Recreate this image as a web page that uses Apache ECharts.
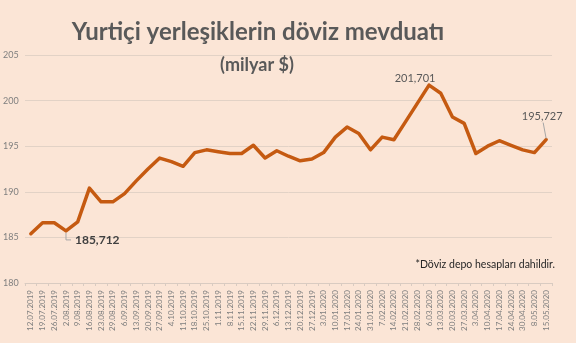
<!DOCTYPE html>
<html>
<head>
<meta charset="utf-8">
<script src="https://cdn.jsdelivr.net/npm/echarts@6/dist/echarts.min.js"></script>
<style>
  html, body { margin: 0; padding: 0; background: #FBE5D6; }
  #chart { width: 576px; height: 343px; }
</style>
</head>
<body>
<div id="chart"></div>
<script>
// Weekly dates (Friday close)
const categories = [
  '12.07.2019', '19.07.2019', '26.07.2019', '2.08.2019', '9.08.2019', '16.08.2019',
  '23.08.2019', '29.08.2019', '6.09.2019', '13.09.2019', '20.09.2019', '27.09.2019',
  '4.10.2019', '11.10.2019', '18.10.2019', '25.10.2019', '1.11.2019', '8.11.2019',
  '15.11.2019', '22.11.2019', '29.11.2019', '6.12.2019', '13.12.2019', '20.12.2019',
  '27.12.2019', '3.01.2020', '10.01.2020', '17.01.2020', '24.01.2020', '31.01.2020',
  '7.02.2020', '14.02.2020', '21.02.2020', '28.02.2020', '6.03.2020', '13.03.2020',
  '20.03.2020', '27.03.2020', '3.04.2020', '10.04.2020', '17.04.2020', '24.04.2020',
  '30.04.2020', '8.05.2020', '15.05.2020'
];

// FX deposits of residents, billion USD
const deposits = [
  185.4, 186.6, 186.6, 185.712, 186.7, 190.4, 188.9, 188.9, 189.8, 191.2,
  192.5, 193.7, 193.3, 192.8, 194.3, 194.6, 194.4, 194.2, 194.2, 195.1,
  193.7, 194.5, 193.9, 193.4, 193.6, 194.3, 196.0, 197.1, 196.4, 194.6,
  196.0, 195.7, 197.7, 199.7, 201.701, 200.8, 198.2, 197.5, 194.2, 195.0,
  195.6, 195.1, 194.6, 194.3, 195.727
];

const yTicks = [180, 185, 190, 195, 200, 205];

// Annotated points: lowest, highest and latest
const lowIdx = 3, highIdx = 34, lastIdx = 44;

const fmt = v => v.toFixed(3).replace('.', ',');

const chart = echarts.init(document.getElementById('chart'), null, { renderer: 'canvas' });

chart.setOption({
  backgroundColor: '#FBE5D6',
  animation: false,
  title: [{
    text: 'Yurtiçi yerleşiklerin döviz mevduatı',
    left: 253, top: 15, textAlign: 'center',
    textStyle: { fontFamily: 'Lato', fontWeight: 'bold', fontSize: 24, color: '#595959' }
  }, {
    text: '(milyar $)',
    left: 252, top: 51, textAlign: 'center',
    textStyle: { fontFamily: 'Lato', fontWeight: 'bold', fontSize: 18, color: '#595959' }
  }],
  grid: { left: 24, right: 24, top: 55, bottom: 60, containLabel: false },
  xAxis: {
    type: 'category',
    data: categories,
    boundaryGap: true,
    axisLine: { show: true, lineStyle: { color: '#D9CBC1', width: 1 } },
    axisTick: { show: true, length: 3, lineStyle: { color: '#D9CBC1' } },
    axisLabel: {
      interval: 0, rotate: 90, margin: 7,
      fontFamily: 'Lato', fontSize: 8, color: '#7F7F7F'
    },
    splitLine: { show: false }
  },
  yAxis: {
    type: 'value',
    min: yTicks[0], max: yTicks[yTicks.length - 1], interval: 5,
    axisLine: { show: false },
    axisTick: { show: false },
    axisLabel: {
      align: 'left', margin: 22,
      fontFamily: 'Lato', fontSize: 9, color: '#7F7F7F'
    },
    splitLine: { show: true, lineStyle: { color: '#E2D2C6', width: 1 } }
  },
  series: [{
    type: 'line',
    data: deposits,
    showSymbol: false,
    symbol: 'none',
    lineStyle: { color: '#C55A11', width: 3.5, join: 'round', cap: 'round' },
    z: 3
  }]
});

// Value callouts placed from the data through the axes
function annotate() {
  const px = i => chart.convertToPixel({ xAxisIndex: 0, yAxisIndex: 0 }, [i, deposits[i]]);
  const lo = px(lowIdx), hi = px(highIdx), last = px(lastIdx);
  chart.setOption({
    graphic: [
      {
        type: 'polyline', silent: true, z: 10,
        shape: { points: [[lo[0], lo[1] + 2], [lo[0], lo[1] + 9], [lo[0] + 5, lo[1] + 9]] },
        style: { stroke: '#A6A6A6', lineWidth: 1, fill: null }
      },
      {
        type: 'text', silent: true, z: 10,
        x: lo[0] + 9, y: lo[1] + 9.5,
        style: {
          text: fmt(deposits[lowIdx]), fill: '#404040',
          font: 'bold 12px Lato', textAlign: 'left', textVerticalAlign: 'middle'
        }
      },
      {
        type: 'text', silent: true, z: 10,
        x: hi[0] - 14, y: hi[1] - 7,
        style: {
          text: fmt(deposits[highIdx]), fill: '#595959',
          font: '11px Lato', textAlign: 'center', textVerticalAlign: 'middle'
        }
      },
      {
        type: 'line', silent: true, z: 10,
        shape: { x1: last[0] - 3, y1: last[1] - 17, x2: last[0], y2: last[1] - 1 },
        style: { stroke: '#A6A6A6', lineWidth: 1 }
      },
      {
        type: 'text', silent: true, z: 10,
        x: last[0] - 4, y: last[1] - 23,
        style: {
          text: fmt(deposits[lastIdx]), fill: '#595959',
          font: '11px Lato', textAlign: 'center', textVerticalAlign: 'middle'
        }
      },
      {
        type: 'text', silent: true, z: 10,
        right: 21, top: 259,
        style: {
          text: '*Döviz depo hesapları dahildir.', fill: '#262626',
          font: '10.5px Lato', textAlign: 'left'
        }
      }
    ]
  });
}
annotate();
</script>
</body>
</html>
